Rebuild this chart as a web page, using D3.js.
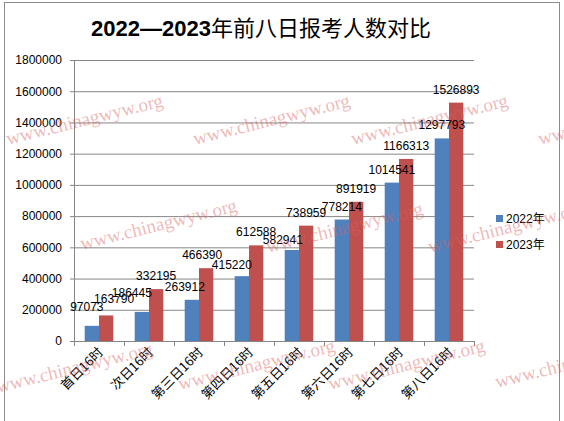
<!DOCTYPE html>
<html>
<head>
<meta charset="utf-8">
<script src="https://cdn.jsdelivr.net/npm/d3@7"></script>
<style>
  body { margin: 0; background: #fff; }
  svg text { font-family: "Liberation Sans", Arial, sans-serif; }
  .cjk { font-family: "Noto Sans CJK SC", sans-serif; }
</style>
</head>
<body>
<svg id="chart" width="564" height="421"></svg>
<script>
// 数据
var categories = ['首日16时','次日16时','第三日16时','第四日16时','第五日16时','第六日16时','第七日16时','第八日16时']
var series = ['2022年','2023年']
var values2022 = [97073,186445,263912,415220,582941,778214,1014541,1297793]
var values2023 = [163790,332195,466390,612588,738959,891919,1166313,1526893]
var yTicks = [0,200000,400000,600000,800000,1000000,1200000,1400000,1600000,1800000]
var colors = ['#4F81BD','#C0504D']

// label nudges (px) where the original labels were dragged by hand
var nudge = {'0-0':[-5,-6],'1-0':[8,-3],'0-1':[-10,-6],'0-2':[-7,0],'1-2':[-4,0],'0-3':[-10,2],'0-4':[-9,3]}

;(function(){
var svg = d3.select('#chart')
var pl = 74, pr = 474, pt = 60, pb = 341

svg.append('rect')
    .attr('x',4.5).attr('y',2.5).attr('width',555).attr('height',440)
    .attr('fill','#fff').attr('stroke','#8c8c8c')

// title
var title = svg.append('text')
    .attr('x',261).attr('y',36)
    .attr('text-anchor','middle')
    .attr('font-size',22)
title.append('tspan').attr('font-weight','bold').text('2022—2023')
title.append('tspan').attr('class','cjk').text('年前八日报考人数对比')

var x0 = d3.scaleBand().domain(categories).range([pl,pr]).paddingInner(0.428).paddingOuter(0.214)
var x1 = d3.scaleBand().domain(series).range([0,x0.bandwidth()])
var y = d3.scaleLinear().domain([0,1800000]).range([pb,pt])
var xb = d3.scaleLinear().domain([0,categories.length]).range([pl,pr])

// gridlines
svg.append('g')
    .attr('transform','translate('+pl+',0)')
    .call(d3.axisLeft(y).tickValues(yTicks.slice(1)).tickSize(-(pr-pl)).tickFormat(''))
    .call(function(g){ g.select('.domain').remove() })
    .selectAll('line').attr('stroke','#868686')

// y axis
var ya = svg.append('g')
    .attr('transform','translate('+pl+',0)')
    .call(d3.axisLeft(y).tickValues(yTicks).tickSize(4).tickPadding(8).tickFormat(d3.format('d')))
ya.select('.domain').attr('stroke','#868686')
ya.selectAll('line').attr('stroke','#868686')
ya.selectAll('text').attr('fill','#000')
    .style('font-size','12px')
    .style('font-family','"Liberation Sans", Arial, sans-serif')

// bars
var data = categories.map(function(c,i){ return {cat:c, vals:[values2022[i],values2023[i]]} })
var groups = svg.append('g').selectAll('g')
    .data(data).enter().append('g')
    .attr('transform',function(d){ return 'translate('+x0(d.cat)+',0)' })
groups.selectAll('rect')
    .data(function(d){ return d.vals }).enter().append('rect')
    .attr('x',function(d,j){ return x1(series[j]) })
    .attr('y',function(d){ return y(d) })
    .attr('width',x1.bandwidth())
    .attr('height',function(d){ return pb-y(d) })
    .attr('fill',function(d,j){ return colors[j] })

// x axis
var xa = svg.append('g')
    .attr('transform','translate(0,'+pb+')')
    .call(d3.axisBottom(xb).ticks(categories.length).tickSize(5).tickFormat(''))
xa.select('.domain').attr('stroke','#868686')
xa.selectAll('line').attr('stroke','#868686')

// category labels
svg.append('g').selectAll('text')
    .data(categories).enter().append('text')
    .attr('class','cjk')
    .attr('font-size',13)
    .attr('text-anchor','end')
    .attr('transform',function(d){
        return 'translate('+(x0(d)+x0.bandwidth()/2+5)+','+(pb+12)+') rotate(-45)'
    })
    .text(String)

// data labels
groups.each(function(d,i){
    d3.select(this).selectAll('text.val')
        .data(d.vals).enter().append('text')
        .attr('class','val')
        .attr('font-size',12)
        .attr('text-anchor','middle')
        .attr('x',function(v,j){
            var n = nudge[j+'-'+i] || [0,0]
            return x1(series[j])+x1.bandwidth()/2+n[0]
        })
        .attr('y',function(v,j){
            var n = nudge[j+'-'+i] || [0,0]
            return y(v)-9+n[1]
        })
        .text(String)
})

// legend
var legend = svg.append('g').selectAll('g')
    .data(series).enter().append('g')
    .attr('transform',function(d,i){ return 'translate(496,'+(215+i*26)+')' })
legend.append('rect').attr('width',7).attr('height',7)
    .attr('fill',function(d,i){ return colors[i] })
legend.append('text').attr('x',10).attr('y',8)
    .attr('font-size',12)
    .each(function(d){
        d3.select(this).append('tspan').text(d.slice(0,4))
        d3.select(this).append('tspan').attr('class','cjk').text(d.slice(4))
    })

// watermark
var marks = [[8,145],[195,145],[353,145],[540,145],[82,250],[268,253],[430,253],[-2,393],[180,390],[330,390],[497,388]]
svg.append('g').selectAll('text')
    .data(marks).enter().append('text')
    .attr('transform',function(d){ return 'translate('+d[0]+','+d[1]+') rotate(-14)' })
    .style('font-family','"Liberation Serif", "DejaVu Serif", serif')
    .style('font-size','19px')
    .attr('fill','#d96060')
    .attr('fill-opacity',0.45)
    .text('www.chinagwyw.org')
})()
</script>
</body>
</html>
